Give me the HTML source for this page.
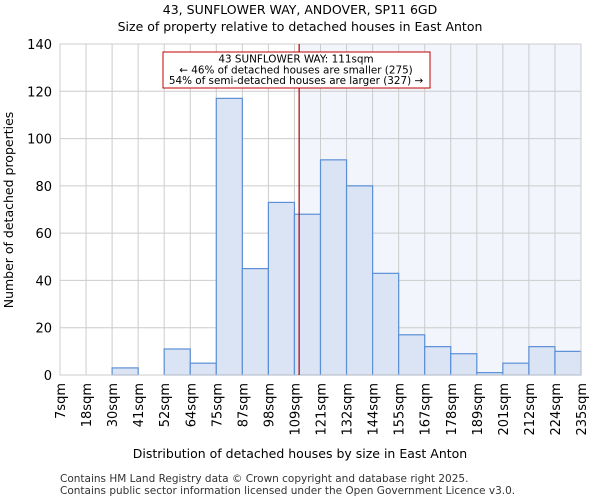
<!DOCTYPE html>
<html><head><meta charset="utf-8"><style>
body{margin:0;background:#fff;font-family:"DejaVu Sans","Liberation Sans",sans-serif}
</style></head><body>
<svg width="600" height="500" xmlns="http://www.w3.org/2000/svg" font-family="DejaVu Sans, Liberation Sans, sans-serif">
<text x="300" y="14" text-anchor="middle" font-size="12.5">43, SUNFLOWER WAY, ANDOVER, SP11 6GD</text>
<text x="300" y="31" text-anchor="middle" font-size="12.5">Size of property relative to detached houses in East Anton</text>
<g id="plot"></g>
<text x="300" y="458" text-anchor="middle" font-size="12.5">Distribution of detached houses by size in East Anton</text>
<text transform="translate(13,210) rotate(-90)" text-anchor="middle" font-size="12.5">Number of detached properties</text>
<text x="60" y="482" font-size="10.5" fill="#333">Contains HM Land Registry data © Crown copyright and database right 2025.</text>
<text x="60" y="494" font-size="10.5" fill="#333">Contains public sector information licensed under the Open Government Licence v3.0.</text>
</svg>
<script>
const binLabels=["7sqm","18sqm","30sqm","41sqm","52sqm","64sqm","75sqm","87sqm","98sqm","109sqm","121sqm","132sqm","144sqm","155sqm","167sqm","178sqm","189sqm","201sqm","212sqm","224sqm","235sqm"];
const counts=[0,0,3,0,11,5,117,45,73,68,91,80,43,17,12,9,1,5,12,10];
const yTicks=[0,20,40,60,80,100,120,140];
const markerBin=9.18;
const NS="http://www.w3.org/2000/svg";
const L=60,R=581,T=44,B=375,YMAX=140;
const n=counts.length;
const xs=i=>L+(R-L)*i/n;
const ys=v=>B-(B-T)*v/YMAX;
const g=document.getElementById('plot');
function mk(t,a){const e=document.createElementNS(NS,t);for(const k in a)e.setAttribute(k,a[k]);g.appendChild(e);return e;}
const mx=xs(markerBin);
let e=mk('rect',{x:mx,y:T,width:R-mx,height:B-T,fill:'#f2f5fc'});


yTicks.forEach(v=>{const l=mk('line',{x1:L,x2:R,y1:ys(v),y2:ys(v),stroke:'#cccccc'});


const t=mk('text',{x:L-8,y:ys(v)+5,'text-anchor':'end','font-size':13});t.textContent=v;

});
binLabels.forEach((s,i)=>{const l=mk('line',{x1:xs(i),x2:xs(i),y1:T,y2:B,stroke:'#cccccc'});


const t=mk('text',{transform:`translate(${xs(i)+5},${B+8}) rotate(-90)`,'text-anchor':'end','font-size':13});t.textContent=s;

});
counts.forEach((c,i)=>{if(c<=0)return;const r=mk('rect',{x:xs(i),y:ys(c),width:xs(i+1)-xs(i),height:B-ys(c),fill:'#dae4f4',stroke:'#5b8fd6','stroke-width':1.2});

});
e=mk('rect',{x:L,y:T,width:R-L,height:B-T,fill:'none',stroke:'#cccccc'});


e=mk('line',{x1:mx,x2:mx,y1:T,y2:B,stroke:'#b00000','stroke-width':1.2});


e=mk('rect',{x:163,y:52,width:267,height:36,fill:'#fff',stroke:'#c00000'});


["43 SUNFLOWER WAY: 111sqm","← 46% of detached houses are smaller (275)","54% of semi-detached houses are larger (327) →"].forEach((s,k)=>{const t=mk('text',{x:296,y:62.5+k*10.8,'text-anchor':'middle','font-size':10.4});t.textContent=s;

});
</script>
</body></html>
